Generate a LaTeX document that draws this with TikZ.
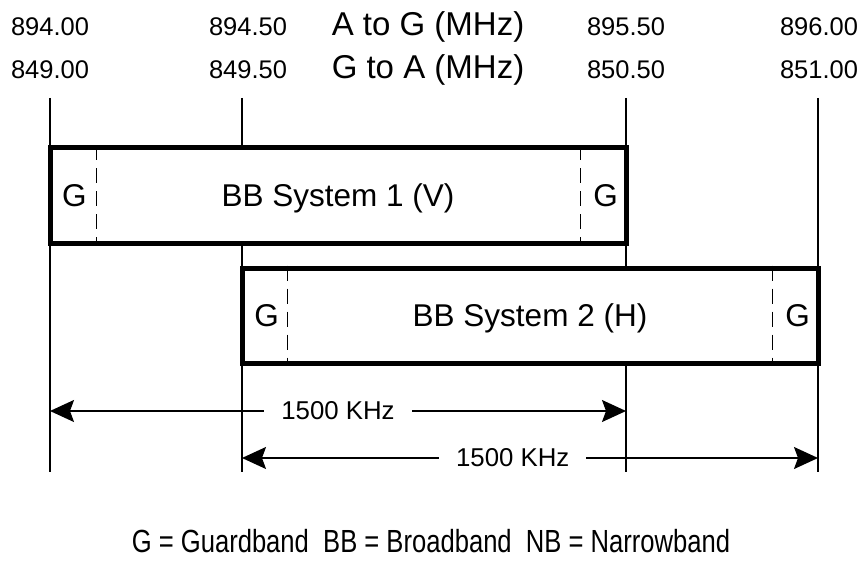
\documentclass[tikz,border=0pt]{standalone}
\usepackage{fontspec}
\setmainfont{Liberation Sans}
\newfontfamily\narrowsans[FakeStretch=0.8]{Liberation Sans}
\usetikzlibrary{arrows.meta, positioning}

\begin{document}
\begin{tikzpicture}[
        x=1pt, y=-1pt,
        every node/.style={inner sep=0pt},
        freq/.style={font=\fontsize{25.5}{30}\selectfont, anchor=base},
        head/.style={font=\fontsize{33}{40}\selectfont, anchor=base},
        tick/.style={line width=1.5pt},
        band/.style={rectangle, draw, line width=5pt, fill=white, minimum width=576pt, minimum height=95pt, font=\fontsize{31.5}{38}\selectfont, text height=22.5pt, text depth=0pt},
        guardline/.style={dash pattern=on 15pt off 8pt, line width=1.5pt},
        guard/.style={font=\fontsize{31.5}{38}\selectfont, text height=22.5pt, text depth=0pt},
        dimarr/.style={{Stealth[length=24pt, width=22pt, inset=4pt]}-{Stealth[length=24pt, width=22pt, inset=4pt]}, line width=1.5pt},
        dimlbl/.style={font=\fontsize{25.8}{30}\selectfont, fill=white, inner xsep=17pt, inner ysep=3pt}
    ]
        \useasboundingbox (0,0) rectangle (861,569);

        \foreach \n/\x in {a/50, b/242, c/626, d/818} {
            \coordinate (top\n) at (\x,98);
            \coordinate (bot\n) at (\x,472);
            \draw[tick] (top\n) -- (bot\n);
        }

        \node[freq] (fa1) at (50,36)    {894.00};
        \node[freq] (fb1) at (248,36)   {894.50};
        \node[head] (dir1) at (428,36)  {A to G (MHz)};
        \node[freq] (fc1) at (626,36)   {895.50};
        \node[freq] (fd1) at (819,36)   {896.00};
        \node[freq] (fa2) at (50,79)    {849.00};
        \node[freq] (fb2) at (248,79)   {849.50};
        \node[head] (dir2) at (428,79)  {G to A (MHz)};
        \node[freq] (fc2) at (626,79)   {850.50};
        \node[freq] (fd2) at (819,79)   {851.00};

        \node[band] (sys1) at (338,195.5) {BB System 1 (V)};
        \node[band] (sys2) at (530,315.5) {BB System 2 (H)};

        \draw[guardline] ([xshift=49pt]sys1.north west) -- ([xshift=49pt]sys1.south west);
        \draw[guardline] ([xshift=-48pt]sys1.north east) -- ([xshift=-48pt]sys1.south east);
        \draw[guardline] ([xshift=48pt]sys2.north west) -- ([xshift=48pt]sys2.south west);
        \draw[guardline] ([xshift=-48pt]sys2.north east) -- ([xshift=-48pt]sys2.south east);

        \node[guard] (g1l) at ([xshift=27pt]sys1.west)  {G};
        \node[guard] (g1r) at ([xshift=-23pt]sys1.east) {G};
        \node[guard] (g2l) at ([xshift=27pt]sys2.west)  {G};
        \node[guard] (g2r) at ([xshift=-23pt]sys2.east) {G};

        \coordinate (s1a) at (50,411);
        \coordinate (s1b) at (626,411);
        \coordinate (s2a) at (242,458);
        \coordinate (s2b) at (818,458);
        \draw[dimarr] (s1a) -- node[dimlbl] (w1) {1500 KHz} (s1b);
        \draw[dimarr] (s2a) -- node[dimlbl, pos=0.47] (w2) {1500 KHz} (s2b);

        \node[font=\narrowsans\fontsize{32}{38}\selectfont] (legend) at (431,541) {G = Guardband~~BB = Broadband~~NB = Narrowband};
    \end{tikzpicture}
\end{document}
